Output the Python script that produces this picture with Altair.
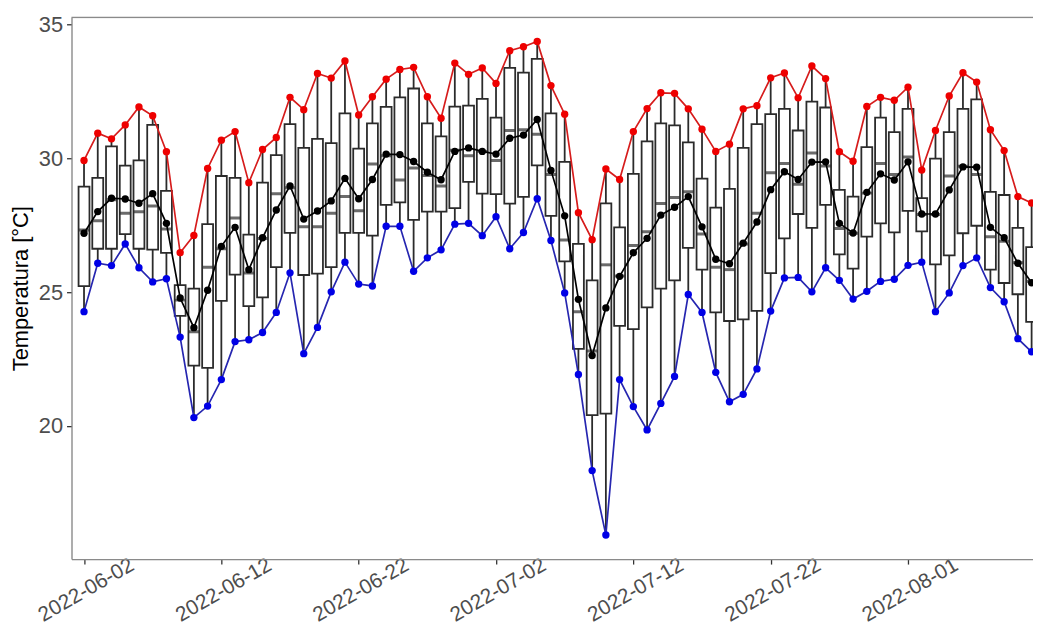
import altair as alt
import pandas as pd

START = "2022-06-02"
N_DAYS = 70

MAX_T = [29.92, 30.94, 30.73, 31.25, 31.92, 31.59, 30.25, 26.47, 27.12, 29.62,
         30.68, 31.00, 29.09, 30.33, 30.78, 32.28, 31.82, 33.17, 33.00, 33.64,
         31.62, 32.30, 32.96, 33.32, 33.40, 32.30, 31.50, 33.56, 33.14, 33.38,
         32.80, 34.02, 34.17, 34.37, 32.72, 31.65, 27.97, 26.96, 29.60, 29.21,
         31.00, 31.86, 32.45, 32.43, 31.85, 31.09, 30.26, 30.53, 31.85, 31.97,
         33.01, 33.19, 32.26, 33.45, 32.98, 30.25, 29.89, 31.94, 32.28, 32.17,
         32.66, 29.56, 31.04, 32.33, 33.20, 32.85, 31.07, 30.29, 28.57, 28.33]

MIN_T = [24.27, 26.08, 25.99, 26.80, 25.91, 25.38, 25.50, 23.32, 20.31, 20.74,
         21.73, 23.15, 23.22, 23.49, 24.24, 25.72, 22.70, 23.68, 25.01, 26.12,
         25.30, 25.23, 27.46, 27.46, 25.78, 26.28, 26.58, 27.54, 27.57, 27.11,
         27.82, 26.62, 27.23, 28.49, 26.93, 24.97, 21.92, 18.33, 15.92, 21.73,
         20.72, 19.85, 20.84, 21.85, 24.91, 24.24, 22.00, 20.90, 21.18, 22.13,
         24.29, 25.53, 25.55, 25.01, 25.91, 25.44, 24.74, 25.03, 25.40, 25.48,
         26.00, 26.12, 24.27, 24.97, 25.99, 26.28, 25.17, 24.64, 23.26, 22.77]

MEAN_T = [27.20, 28.01, 28.51, 28.48, 28.32, 28.68, 27.57, 24.78, 23.67, 25.07,
          26.71, 27.42, 25.84, 27.03, 28.07, 28.97, 27.73, 28.03, 28.41, 29.25,
          28.49, 29.21, 30.16, 30.14, 29.88, 29.48, 29.20, 30.26, 30.39, 30.26,
          30.16, 30.75, 30.87, 31.45, 29.55, 27.85, 24.73, 22.63, 24.41, 25.59,
          26.47, 27.01, 27.88, 28.17, 28.57, 27.44, 26.23, 26.06, 26.83, 27.62,
          28.83, 29.50, 29.21, 29.86, 29.87, 27.57, 27.21, 28.73, 29.42, 29.19,
          29.87, 27.92, 27.92, 28.82, 29.68, 29.67, 27.42, 27.03, 26.08, 25.35]

Q3_T = [28.94, 29.27, 30.45, 29.73, 29.92, 31.25, 28.78, 25.26, 25.13, 27.54,
        29.34, 29.27, 27.15, 29.09, 30.12, 31.28, 30.39, 30.73, 30.57, 31.68,
        30.36, 31.31, 31.92, 32.28, 32.61, 31.31, 30.82, 31.93, 31.97, 32.22,
        31.52, 33.38, 33.20, 33.72, 31.68, 29.87, 26.80, 25.44, 28.32, 27.42,
        29.42, 30.63, 31.31, 31.23, 30.60, 29.24, 28.16, 28.86, 30.39, 31.28,
        31.65, 31.85, 31.04, 32.12, 31.90, 28.82, 28.57, 30.42, 31.52, 30.98,
        31.85, 28.51, 29.99, 30.98, 31.85, 32.20, 28.75, 28.63, 27.40, 26.68]

MEDIAN_T = [27.32, 27.67, 28.45, 27.95, 28.00, 28.22, 27.36, 24.70, 23.52, 25.93,
            26.62, 27.77, 25.71, 27.00, 28.68, 28.90, 27.44, 27.44, 27.95, 28.57,
            28.04, 29.79, 30.10, 29.19, 29.64, 29.36, 28.97, 30.30, 30.10, 30.26,
            29.92, 31.04, 31.07, 30.90, 29.40, 26.95, 24.27, 22.80, 26.02, 25.60,
            26.74, 27.26, 28.31, 28.54, 28.75, 27.17, 25.93, 25.84, 26.80, 27.95,
            29.46, 29.81, 29.03, 30.20, 29.71, 27.38, 27.20, 28.70, 29.81, 29.40,
            30.05, 27.90, 27.90, 29.34, 29.70, 29.40, 27.07, 26.90, 26.10, 25.40]

Q1_T = [25.22, 26.62, 26.62, 27.17, 26.62, 26.59, 26.47, 24.11, 22.25, 22.17,
        24.67, 25.65, 24.48, 24.80, 25.93, 27.21, 25.64, 25.69, 25.93, 27.21,
        27.21, 27.11, 28.26, 28.35, 27.70, 28.01, 28.01, 28.14, 29.12, 28.68,
        28.66, 28.31, 28.56, 29.74, 27.85, 26.15, 22.88, 20.40, 20.46, 23.74,
        23.62, 24.43, 25.13, 25.44, 26.65, 25.84, 24.24, 23.92, 23.98, 24.30,
        25.71, 27.01, 27.92, 27.40, 28.26, 26.41, 25.88, 27.07, 27.57, 27.23,
        28.04, 27.27, 26.04, 26.37, 27.20, 27.48, 25.84, 25.34, 24.92, 23.89]

TICK_DATES = ["2022-06-02", "2022-06-12", "2022-06-22", "2022-07-02",
              "2022-07-12", "2022-07-22", "2022-08-01"]
Y_TICKS = [20, 25, 30, 35]
Y_TITLE = "Temperatura [°C]"

dates = pd.date_range(START, periods=N_DAYS, freq="D").strftime("%Y-%m-%d")
df = pd.DataFrame({
    "date": dates, "tmax": MAX_T, "tmin": MIN_T, "tmean": MEAN_T,
    "q1": Q1_T, "med": MEDIAN_T, "q3": Q3_T,
})

DAY = 86400000
t0 = int(pd.Timestamp(START, tz="UTC").value // 1_000_000)
x_domain = [t0 - 0.55 * DAY, t0 + 68.74 * DAY]
tick_vals = [int(pd.Timestamp(d, tz="UTC").value // 1_000_000) for d in TICK_DATES]

FONT = "Liberation Sans"
W, H = 969, 546

x_enc = alt.X(
    "date:T",
    scale=alt.Scale(type="utc", domain=x_domain, nice=False),
    axis=alt.Axis(
        values=tick_vals, labelExpr="utcFormat(datum.value, '%Y-%m-%d')",
        title=None, grid=False, labelAngle=330, labelAlign="center",
        labelBaseline="middle", labelPadding=26, labelFontSize=21,
        labelColor="#4d4d4d", labelFont=FONT, tickColor="#333333", tickSize=5,
        tickWidth=1.3, domainColor="#8a8a8a", domainWidth=1.3, labelFlush=False,
        labelOverlap=False, labelOffset=2,
    ),
)
y_scale = alt.Scale(domain=[15.02, 35.27], nice=False, zero=False)
y_axis = alt.Axis(
    values=Y_TICKS, title=Y_TITLE, grid=False, labelFontSize=22,
    labelColor="#4d4d4d", labelFont=FONT, labelPadding=4, tickColor="#333333",
    tickSize=5, tickWidth=1.3, domainColor="#8a8a8a", domainWidth=1.3,
    titleFont=FONT, titleFontSize=22, titleFontWeight="normal", titleColor="black",
    titlePadding=6,
)

base = alt.Chart(df)

whisk = base.mark_rule(color="#2b2b2b", strokeWidth=1.8, clip=True).encode(
    x=x_enc, y=alt.Y("tmin:Q", scale=y_scale, axis=y_axis), y2="tmax:Q")
box = base.mark_bar(size=11, fill="white", stroke="#2b2b2b", strokeWidth=1.8,
                    clip=True).encode(x=x_enc, y=alt.Y("q1:Q", scale=y_scale), y2="q3:Q")
med = base.mark_tick(orient="horizontal", size=11, thickness=3, color="#2b2b2b",
                     clip=True).encode(x=x_enc, y=alt.Y("med:Q", scale=y_scale))

def series(field, line_color, pt_color):
    ln = base.mark_line(color=line_color, strokeWidth=1.7, clip=True).encode(
        x=x_enc, y=alt.Y(f"{field}:Q", scale=y_scale))
    pt = base.mark_circle(color=pt_color, size=55, opacity=1, clip=True).encode(
        x=x_enc, y=alt.Y(f"{field}:Q", scale=y_scale))
    return ln, pt

rl, rp = series("tmax", "#d61c1c", "#ee0000")
bl, bp = series("tmin", "#2626b0", "#0000e6")
ml, mp = series("tmean", "#000000", "#000000")

top_border = alt.Chart(pd.DataFrame({"a": [0]})).mark_rule(
    color="#8a8a8a", strokeWidth=1.3).encode(
    x=alt.value(0), x2=alt.value(W), y=alt.value(0))

chart = alt.layer(whisk, box, med, rl, bl, ml, rp, bp, mp, top_border).properties(
    width=W, height=H,
    padding={"left": 64, "top": 7, "right": 0, "bottom": 66},
    autosize=alt.AutoSizeParams(type="none"),
).configure_view(stroke=None).configure(background="white")

chart.save("out.html", embed_options={"renderer": "svg", "actions": False})
